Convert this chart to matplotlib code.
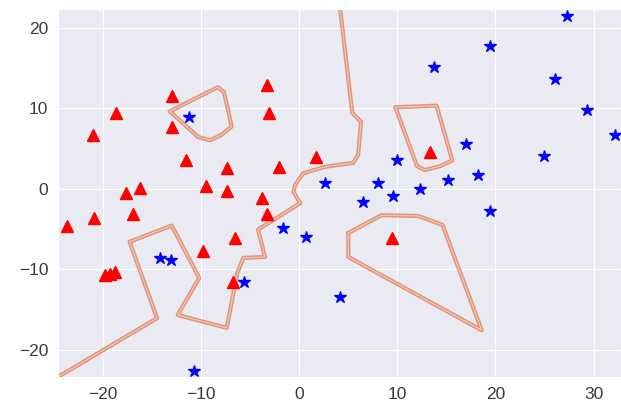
import numpy as np
import matplotlib
matplotlib.use("Agg")
import matplotlib.pyplot as plt
import seaborn as sns

# class 0 (red triangles)
red_x = [-23.7, -21.0, -20.9, -18.7, -19.8, -19.3, -18.8, -17.7, -17.0, -16.2,
         -13.0, -13.0, -11.6, -9.8, -9.5, -7.4, -7.4, -6.6, -6.8, -3.3,
         -3.1, -3.8, -3.3, -2.1, 1.7, 13.3, 9.5]
red_y = [-4.6, 6.7, -3.7, 9.4, -10.7, -10.6, -10.3, -0.6, -3.2, 0.1,
         11.5, 7.6, 3.6, -7.7, 0.3, 2.6, -0.3, -6.1, -11.6, 12.9,
         9.4, -1.2, -3.1, 2.7, 3.9, 4.5, -6.1]

# class 1 (blue stars)
blue_x = [-11.2, -14.2, -13.1, -10.7, -5.6, -1.7, 0.7, 2.6, 4.2, 6.5,
          8.0, 9.6, 10.0, 12.3, 13.7, 15.2, 17.0, 18.2, 19.4, 19.4,
          24.9, 26.1, 27.3, 29.3, 32.2]
blue_y = [8.9, -8.6, -8.9, -22.7, -11.6, -4.9, -6.0, 0.7, -13.5, -1.7,
          0.7, -0.9, 3.6, 0.0, 15.1, 1.1, 5.5, 1.7, -2.8, 17.7,
          4.0, 13.6, 21.4, 9.8, 6.7]

# decision boundary lines
main_x = [4.1, 5.4, 6.3, 6.0, 5.5, 2.6, 0.4, -0.4, -0.6, 0.1, -4.2, -3.5,
          -5.7, -6.3, -7.4, -12.4, -10.2, -13.0, -17.3, -14.5, -26.0]
main_y = [23.0, 9.4, 8.3, 4.2, 3.2, 2.7, 1.9, 0.5, -0.4, -1.8, -5.1, -8.5,
          -8.6, -10.4, -17.3, -15.7, -11.1, -4.6, -6.6, -16.1, -24.4]
loop1_x = [-13.2, -8.3, -7.7, -7.3, -6.9, -7.9, -9.1, -10.3, -13.2]
loop1_y = [9.6, 12.6, 12.0, 10.0, 7.7, 6.7, 6.0, 6.4, 9.6]
loop2_x = [9.8, 14.0, 15.6, 14.4, 12.8, 12.0, 9.8]
loop2_y = [10.1, 10.3, 3.5, 2.8, 2.3, 2.8, 10.1]
loop3_x = [5.0, 8.4, 12.1, 14.6, 18.6, 5.0, 5.0]
loop3_y = [-5.5, -3.3, -3.4, -4.5, -17.6, -8.5, -5.5]

sns.set_style("darkgrid")
plt.rcParams['font.family'] = ['Liberation Sans', 'DejaVu Sans']

fig = plt.figure(figsize=(6.21, 4.12), dpi=100)
ax = fig.add_axes([0.0934, 0.085, 0.9066, 0.893])

for bx, by in [(main_x, main_y), (loop1_x, loop1_y), (loop2_x, loop2_y), (loop3_x, loop3_y)]:
    ax.plot(bx, by, color='#e0957b', lw=3.0)
    ax.plot(bx, by, color='#f2c4b2', lw=0.9)

ax.plot(red_x, red_y, 'r^', markersize=9)
ax.plot(blue_x, blue_y, 'b*', markersize=9)

ax.set_xlim(-24.6, 32.8)
ax.set_ylim(-23.4, 22.3)
ax.set_xticks([-20, -10, 0, 10, 20, 30])
ax.set_yticks([-20, -10, 0, 10, 20])
ax.tick_params(labelsize=12.5, colors='#3a3a3a')

fig.savefig("out.png", dpi=100)
